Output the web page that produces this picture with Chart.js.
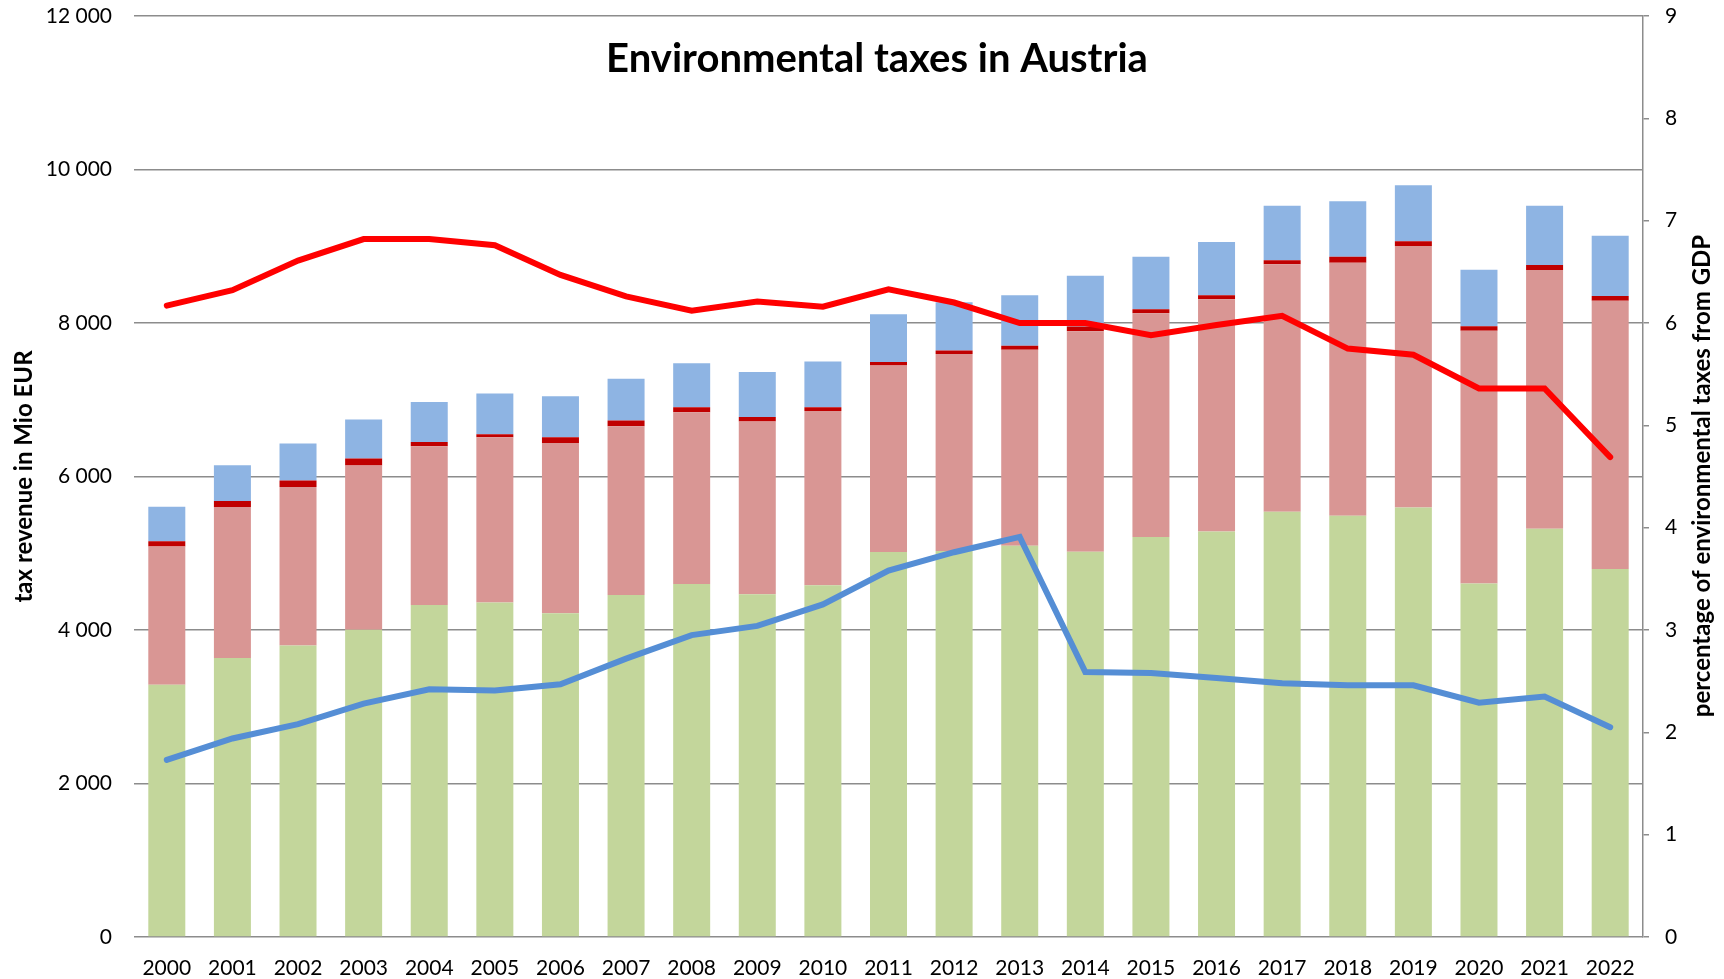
<!DOCTYPE html>
<html>
<head>
<meta charset="utf-8">
<script src="https://cdn.jsdelivr.net/npm/chart.js@4.4.1/dist/chart.umd.min.js"></script>
<style>
  html, body { margin: 0; padding: 0; background: #fff; }
  #wrap { width: 1724px; height: 979px; position: relative; }
</style>
</head>
<body>
<div id="wrap"><canvas id="c"></canvas></div>
<script>
const years = ['2000','2001','2002','2003','2004','2005','2006','2007','2008','2009','2010','2011','2012','2013','2014','2015','2016','2017','2018','2019','2020','2021','2022'];
const energyTaxes    = [3286,3636,3799,4004,4325,4358,4218,4456,4600,4465,4582,5015,5029,5099,5019,5211,5285,5541,5490,5597,4605,5318,4796];
const transportTaxes = [1803,1966,2064,2138,2069,2152,2218,2199,2237,2250,2273,2432,2567,2553,2875,2916,3024,3224,3294,3406,3294,3373,3494];
const pollutionTaxes = [66,79,84,94,56,42,74,74,65,61,47,46,47,51,61,51,51,52,79,61,60,65,61];
const resourceTaxes  = [452,466,484,507,522,531,536,545,573,587,596,620,628,657,661,685,694,712,722,731,736,773,787];
const shareRed  = [6.17,6.32,6.61,6.82,6.82,6.76,6.47,6.26,6.12,6.21,6.16,6.33,6.20,6.00,6.00,5.88,5.98,6.07,5.75,5.69,5.36,5.36,4.69];
const shareBlue = [1.73,1.94,2.08,2.28,2.42,2.41,2.47,2.72,2.95,3.04,3.25,3.58,3.76,3.91,2.59,2.58,2.53,2.48,2.46,2.46,2.29,2.35,2.05];
const leftTicks = [0,2000,4000,6000,8000,10000,12000];
const rightTicks = [0,1,2,3,4,5,6,7,8,9];
const chartTitle = 'Environmental taxes in Austria';
const leftTitle = 'tax revenue in Mio EUR';
const rightTitle = 'percentage of environmental taxes from GDP';

Chart.defaults.font.family = 'Lato, "Open Sans", sans-serif';
Chart.defaults.color = '#000';

const GRID = '#8c8c8c';

const overlay = {
  id: 'overlay',
  afterDraw(chart) {
    const ctx = chart.ctx;
    ctx.save();
    ctx.fillStyle = '#000';
    ctx.font = 'bold 40px Lato, sans-serif';
    ctx.textAlign = 'center';
    ctx.textBaseline = 'alphabetic';
    ctx.fillText(chartTitle, 877, 72);
    ctx.translate(1702, 476);
    ctx.rotate(-Math.PI / 2);
    ctx.font = 'bold 24px Lato, sans-serif';
    ctx.textBaseline = 'middle';
    ctx.fillText(rightTitle, 0, 0);
    ctx.restore();
  }
};

const barCommon = { type: 'bar', yAxisID: 'y', order: 2, borderWidth: 0, categoryPercentage: 1, barPercentage: 0.564, stack: 's' };

new Chart(document.getElementById('c'), {
  data: {
    labels: years,
    datasets: [
      { type: 'line', label: 'share red', data: shareRed, yAxisID: 'y1', order: 0, borderColor: '#FF0000', borderWidth: 6, pointRadius: 0, borderCapStyle: 'round', fill: false, tension: 0 },
      { type: 'line', label: 'share blue', data: shareBlue, yAxisID: 'y1', order: 1, borderColor: '#558ED5', borderWidth: 6, pointRadius: 0, borderCapStyle: 'round', fill: false, tension: 0 },
      Object.assign({ label: 'energy', data: energyTaxes, backgroundColor: '#C3D69B' }, barCommon),
      Object.assign({ label: 'transport', data: transportTaxes, backgroundColor: '#D99694' }, barCommon),
      Object.assign({ label: 'pollution', data: pollutionTaxes, backgroundColor: '#C00000' }, barCommon),
      Object.assign({ label: 'resource', data: resourceTaxes, backgroundColor: '#8EB4E3' }, barCommon)
    ]
  },
  options: {
    responsive: true,
    maintainAspectRatio: false,
    animation: false,
    layout: { padding: { top: 16, left: 0, right: 0, bottom: 0 } },
    plugins: { legend: { display: false }, tooltip: { enabled: false }, title: { display: false } },
    scales: {
      x: {
        stacked: true,
        grid: { display: false, drawTicks: false },
        border: { display: false },
        ticks: { font: { size: 21 }, padding: 19, maxRotation: 0, autoSkip: false },
        afterFit(s) { s.height = 42; s.paddingLeft = 0; s.paddingRight = 0; }
      },
      y: {
        position: 'left',
        stacked: true,
        min: 0, max: 12000,
        afterBuildTicks(s) { s.ticks = leftTicks.map(v => ({ value: v })); },
        ticks: { font: { size: 21 }, padding: 22, callback: v => v.toLocaleString('en-US').replace(/,/g, ' ') },
        grid: { color: GRID, lineWidth: 1.5, drawTicks: false },
        border: { display: false },
        title: { display: true, text: leftTitle, font: { size: 24, weight: 'bold' }, padding: { top: 10, bottom: 0 } },
        afterFit(s) { s.width = 134; s.paddingTop = 0; s.paddingBottom = 0; }
      },
      y1: {
        position: 'right',
        min: 0, max: 9,
        afterBuildTicks(s) { s.ticks = rightTicks.map(v => ({ value: v })); },
        ticks: { font: { size: 21 }, padding: 16 },
        grid: { drawOnChartArea: false, drawTicks: true, tickLength: 6, color: GRID, lineWidth: 1.5 },
        border: { display: true, color: GRID, width: 1.5 },
        afterFit(s) { s.width = 81; s.paddingTop = 0; s.paddingBottom = 0; }
      }
    }
  },
  plugins: [overlay]
});
</script>
</body>
</html>
